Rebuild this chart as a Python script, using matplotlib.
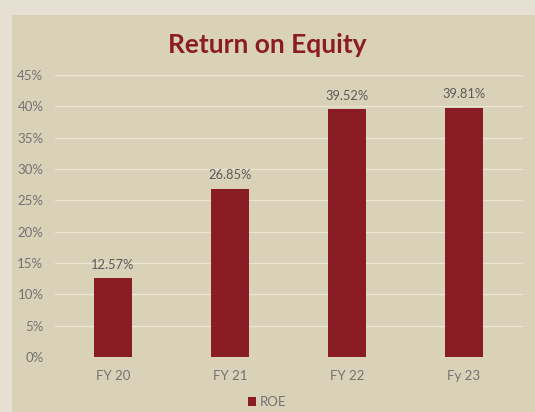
import matplotlib
matplotlib.use("Agg")
import matplotlib.pyplot as plt
from matplotlib.patches import Rectangle
from matplotlib.ticker import FuncFormatter, MultipleLocator

categories = ["FY 20", "FY 21", "FY 22", "Fy 23"]
roe = [12.57, 26.85, 39.52, 39.81]
series_name = "ROE"

bar_color = "#8a1c25"
text_gray = "#727272"

plt.rcParams["font.family"] = ["Lato", "DejaVu Sans"]

fig = plt.figure(figsize=(5.35, 4.12), dpi=100)
fig.patch.set_facecolor("#e6e0d3")
# inner chart panel (drawn beneath the axes)
fig.patches.append(Rectangle((12 / 535, 0), 1, 1 - 15 / 412, transform=fig.transFigure,
                             facecolor="#dad2b8", edgecolor="none", zorder=-1))

ax = fig.add_axes([54.5 / 535, 55 / 412, 468 / 535, 282 / 412])
ax.set_zorder(2)
ax.set_facecolor("none")

x = range(len(categories))
bars = ax.bar(x, roe, width=0.325, color=bar_color, label=series_name, zorder=3)
for xi, v in zip(x, roe):
    ax.text(xi, v + 1.2, f"{v:.2f}%", ha="center", va="bottom", fontsize=9.3, color="#5a5a5a")

ax.set_xlim(-0.5, len(categories) - 0.5)
ax.set_ylim(0, 45)
ax.yaxis.set_major_locator(MultipleLocator(5))
ax.yaxis.set_major_formatter(FuncFormatter(lambda v, p: f"{v:.0f}%"))
ax.set_xticks(list(x))
ax.set_xticklabels(categories)
ax.tick_params(axis="both", length=0, labelsize=9.5, colors=text_gray)
ax.tick_params(axis="y", pad=8)
ax.tick_params(axis="x", pad=9)
ax.grid(axis="y", color="#ebe5d5", linewidth=0.9, zorder=1)
for s in ax.spines.values():
    s.set_visible(False)

title = fig.text(0.5, 1 - 45 / 412, "Return on Equity", ha="center", va="center",
                 fontsize=19, fontweight="bold", color=bar_color)
title.set_zorder(3)

leg = fig.legend(handles=[bars], labels=[series_name], loc="center",
                 bbox_to_anchor=(0.5, 1 - 402 / 412), frameon=False, fontsize=9.5,
                 handlelength=0.6, handleheight=0.6, handletextpad=0.3, labelcolor=text_gray)
leg.set_zorder(3)

fig.savefig("out.png", dpi=100, facecolor=fig.get_facecolor())
